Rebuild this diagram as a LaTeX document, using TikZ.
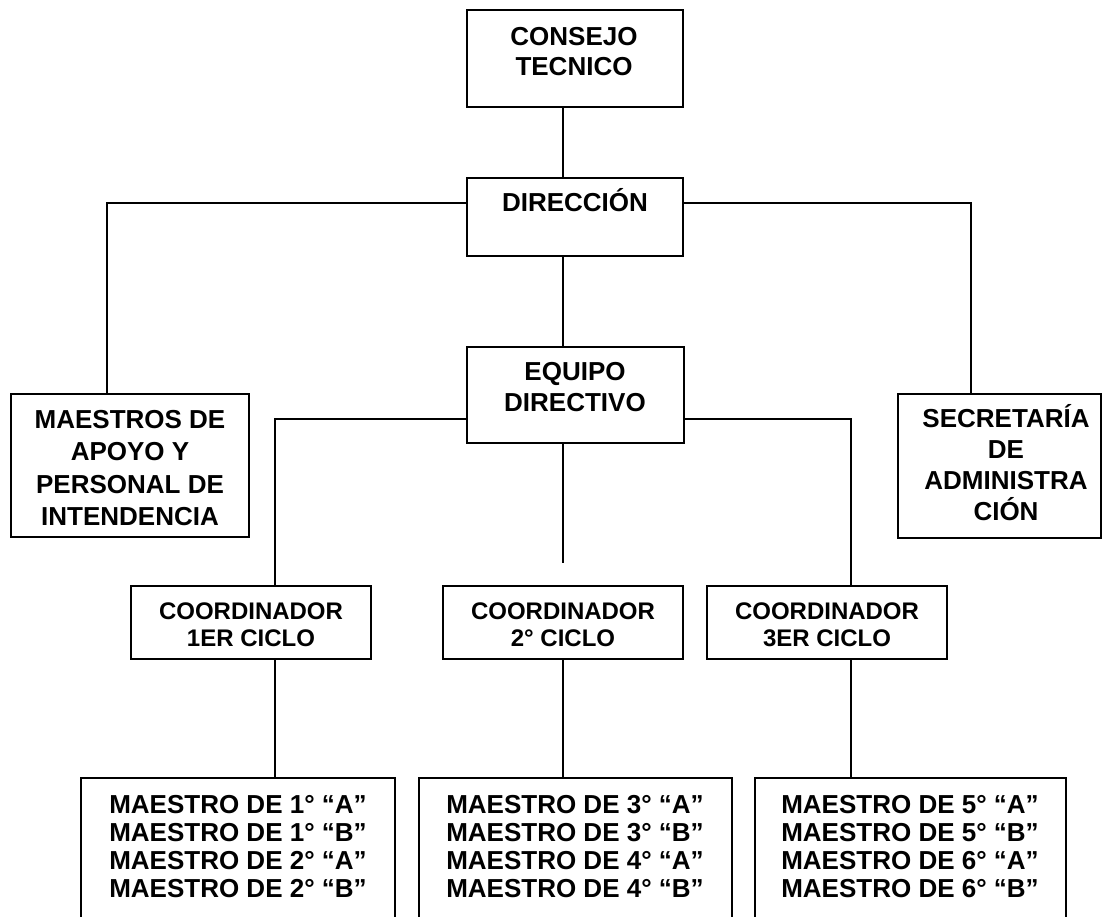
\documentclass[tikz,border=0pt]{standalone}
\usepackage{fontspec}
\setmainfont{Liberation Sans}
\usetikzlibrary{calc}
\begin{document}
\begin{tikzpicture}[x=1pt,y=-1pt,
  boxnode/.style={draw=black,line width=1.3pt,rectangle,inner sep=0pt,fill=white},
  conn/.style={draw=black,line width=1.3pt},
  bigtext/.style={inner sep=0pt,align=center,font=\bfseries\fontsize{26}{#1}\selectfont},
  smalltext/.style={inner sep=0pt,align=center,font=\bfseries\fontsize{24}{27}\selectfont}]
\useasboundingbox[fill=white] (0,0) rectangle (1105,917);
\clip (0,0) rectangle (1105,917);
% boxes
\node[boxnode,minimum width=216pt,minimum height=97pt] (cons) at (575,58.5) {};
\node[boxnode,minimum width=216pt,minimum height=78pt] (dir) at (575,217) {};
\node[boxnode,minimum width=217pt,minimum height=96pt] (equ) at (575.5,395) {};
\node[boxnode,minimum width=238pt,minimum height=143pt] (maes) at (130,465.5) {};
\node[boxnode,minimum width=203pt,minimum height=144pt] (secr) at (999.5,466) {};
\node[boxnode,minimum width=240pt,minimum height=73pt] (c1) at (251,622.5) {};
\node[boxnode,minimum width=240pt,minimum height=73pt] (c2) at (563,622.5) {};
\node[boxnode,minimum width=240pt,minimum height=73pt] (c3) at (827,622.5) {};
\node[boxnode,minimum width=314pt,minimum height=182pt] (b1) at (238,869) {};
\node[boxnode,minimum width=313pt,minimum height=182pt] (b2) at (575.5,869) {};
\node[boxnode,minimum width=311pt,minimum height=182pt] (b3) at (910.5,869) {};
% texts
\node[bigtext=30,anchor=north] (tcons) at (574,27) {CONSEJO\\TECNICO};
\node[bigtext=30,anchor=base] (tdir) at (575,212) {DIRECCIÓN};
\node[bigtext=31,anchor=north] (tequ) at (575,362) {EQUIPO\\DIRECTIVO};
\node[bigtext=32.5,anchor=north] (tmaes) at (130,410) {MAESTROS DE\\APOYO Y\\PERSONAL DE\\INTENDENCIA};
\node[bigtext=31,anchor=north] (tsecr) at (1006,427) {\smash{SECRETARÍA}\\DE\\ADMINISTRA\\CIÓN};
\node[smalltext,anchor=north] (tc1) at (251,603) {COORDINADOR\\1ER CICLO};
\node[smalltext,anchor=north] (tc2) at (563,603) {COORDINADOR\\2° CICLO};
\node[smalltext,anchor=north] (tc3) at (827,603) {COORDINADOR\\3ER CICLO};
\node[bigtext=28,anchor=north] (tb1) at (238,795) {MAESTRO DE 1° “A”\\MAESTRO DE 1° “B”\\MAESTRO DE 2° “A”\\MAESTRO DE 2° “B”};
\node[bigtext=28,anchor=north] (tb2) at (575,795) {MAESTRO DE 3° “A”\\MAESTRO DE 3° “B”\\MAESTRO DE 4° “A”\\MAESTRO DE 4° “B”};
\node[bigtext=28,anchor=north] (tb3) at (910,795) {MAESTRO DE 5° “A”\\MAESTRO DE 5° “B”\\MAESTRO DE 6° “A”\\MAESTRO DE 6° “B”};
% connectors
\coordinate (stub) at (563,563);
\draw[conn] ([xshift=-12pt]cons.south) -- ([xshift=-12pt]dir.north);
\draw[conn] ([yshift=14pt]dir.west) -| ([xshift=-23pt]maes.north);
\draw[conn] ([yshift=14pt]dir.east) -| ([xshift=-28.5pt]secr.north);
\draw[conn] ([xshift=-12pt]dir.south) -- ([xshift=-12.5pt]equ.north);
\draw[conn] ([yshift=-24pt]equ.west) -| ([xshift=24pt]c1.north);
\draw[conn] ([yshift=-24pt]equ.east) -| ([xshift=24pt]c3.north);
\draw[conn] ([xshift=-12.5pt]equ.south) -- (stub);
\draw[conn] ([xshift=24pt]c1.south) -- ([xshift=24pt]c1.south |- b1.north);
\draw[conn] (c2.south) -- (c2.south |- b2.north);
\draw[conn] ([xshift=24pt]c3.south) -- ([xshift=24pt]c3.south |- b3.north);
\end{tikzpicture}
\end{document}
